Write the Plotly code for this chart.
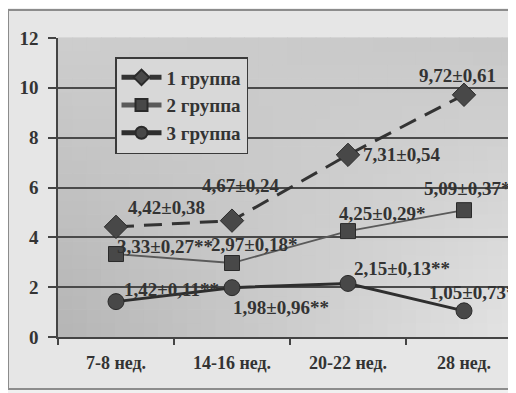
import plotly.graph_objects as go

categories = ["7-8 нед.", "14-16 нед.", "20-22 нед.", "28 нед."]
group1 = [4.42, 4.67, 7.31, 9.72]
group2 = [3.33, 2.97, 4.25, 5.09]
group3 = [1.42, 1.98, 2.15, 1.05]
labels1 = ["4,42±0,38", "4,67±0,24", "7,31±0,54", "9,72±0,61"]
labels2 = ["3,33±0,27**", "2,97±0,18*", "4,25±0,29*", "5,09±0,37**"]
labels3 = ["1,42±0,11**", "1,98±0,96**", "2,15±0,13**", "1,05±0,73**"]
names = ["1 группа", "2 группа", "3 группа"]
y_ticks = [0, 2, 4, 6, 8, 10, 12]

# label offsets in pixels (styling only)
off1 = [(50, 19), (8, 35), (53, 0), (-7, 19)]
off2 = [(49, 8), (22, 19), (34, 18), (8, 22)]
off3 = [(55, 12), (49, -20), (54, 15), (13, 18)]

FONT = "Liberation Serif"
TXT = "#333333"

fig = go.Figure()
fig.add_trace(go.Scatter(
    x=categories, y=group1, name=names[0], mode="lines+markers",
    line=dict(color="#333333", width=3, dash="18px,10px"),
    marker=dict(symbol="diamond", size=18, color="#484848", line=dict(color="#2a2a2a", width=1))))
fig.add_trace(go.Scatter(
    x=categories, y=group2, name=names[1], mode="lines+markers",
    line=dict(color="#5a5a5a", width=1.8),
    marker=dict(symbol="square", size=15, color="#484848", line=dict(color="#2a2a2a", width=1))))
fig.add_trace(go.Scatter(
    x=categories, y=group3, name=names[2], mode="lines+markers",
    line=dict(color="#2e2e2e", width=3),
    marker=dict(symbol="circle", size=16, color="#484848", line=dict(color="#2a2a2a", width=1))))

annotations = []
for vals, labs, offs in [(group1, labels1, off1), (group2, labels2, off2), (group3, labels3, off3)]:
    for c, v, t, (dx, dy) in zip(categories, vals, labs, offs):
        annotations.append(dict(
            x=c, y=v, xref="x", yref="y", text=t, showarrow=False,
            xshift=dx, yshift=dy,
            font=dict(family=FONT, size=19, color=TXT, weight="bold")))

# The page body adds an 8px offset; figure is sized so that it ends at the window edge.
OX, OY = 8, 8
FW, FH = 516 - OX, 393 - OY
L, R, T, B = 58 - OX, 516 - OX, 38 - OY, 337 - OY
W, H = R - L, B - T
def px(xp):
    return (xp - OX - L) / W
def py(yp):
    return (B - (yp - OY)) / H

shapes = [dict(type="rect", xref="paper", yref="paper",
               x0=px(8), x1=px(540), y0=py(389), y1=py(10),
               fillcolor="#e6e6e6", line=dict(color="#8c8c8c", width=2), layer="below")]
NX, NY = 32, 22
for i in range(NX):
    for j in range(NY):
        u = (i + 0.5) / NX
        v = (j + 0.5) / NY
        c = int(181 + 47 * u * (1 - 0.6 * v) + 25 * v * (1 - u))
        shapes.append(dict(type="rect", xref="paper", yref="paper",
                           x0=i / NX, x1=(i + 1) / NX + 0.002,
                           y0=j / NY, y1=(j + 1) / NY + 0.002,
                           fillcolor=f"rgb({c},{c},{c})", line=dict(width=0), layer="below"))

fig.update_layout(
    width=FW, height=FH,
    margin=dict(l=L, r=0, t=T, b=FH - B),
    paper_bgcolor="#f0f0f0", plot_bgcolor="rgba(0,0,0,0)",
    font=dict(family=FONT, size=18, color=TXT, weight="bold"),
    showlegend=True,
    legend=dict(x=px(115), y=py(57), xanchor="left", yanchor="top",
                bgcolor="#d8d8d8", bordercolor="#3a3a3a", borderwidth=1.5,
                font=dict(family=FONT, size=19, color=TXT, weight="bold"),
                itemsizing="constant", itemwidth=40, tracegroupgap=0),
    annotations=annotations,
    shapes=shapes,
)
fig.update_xaxes(
    type="category", range=[-0.5, -0.5 + W / 116], tickson="boundaries",
    ticks="outside", ticklen=6, tickwidth=1.5, tickcolor="#444444",
    showline=True, linecolor="#444444", linewidth=2, showgrid=False,
    tickfont=dict(family=FONT, size=18, color=TXT, weight="bold"),
    ticklabelstandoff=8, zeroline=False)
fig.update_yaxes(
    range=[0, 12], tickvals=y_ticks, ticks="outside", ticklen=8, tickwidth=1.5,
    tickcolor="#444444", showline=True, linecolor="#444444", linewidth=1.5,
    showgrid=True, gridcolor="#4a4a4a", gridwidth=1.5, zeroline=False,
    tickfont=dict(family=FONT, size=19, color=TXT, weight="bold"),
    ticklabelstandoff=6)

fig.write_html("out.html")
